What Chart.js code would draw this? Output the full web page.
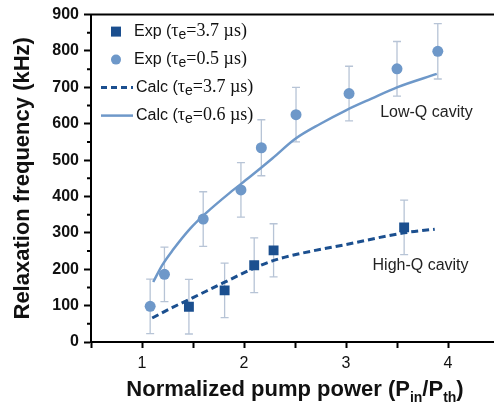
<!DOCTYPE html>
<html lang="en">
<head>
<meta charset="UTF-8">
<title>Relaxation frequency vs pump power</title>
<script src="https://cdn.jsdelivr.net/npm/chart.js@4"></script>
<style>
  html, body { margin: 0; padding: 0; background: #fff; }
  #wrap { width: 494px; height: 414px; overflow: hidden; }
</style>
</head>
<body>
<div id="wrap"><canvas id="myChart" width="506" height="414"></canvas></div>
<script>
// values
const expLongX = [1.46, 1.81, 2.10, 2.29, 3.57];
const expLongY = [97, 142, 211, 252, 315];
const expLongErr = [75, 75, 75, 73, 75];

const expShortX = [1.08, 1.22, 1.60, 1.97, 2.17, 2.51, 3.03, 3.50, 3.90];
const expShortY = [98, 186, 338, 418, 534, 625, 683, 751, 799];
const expShortErr = [75, 75, 75, 75, 77, 75, 75, 75, 76];

const calcLongX = [1.10, 1.30, 1.50, 1.80, 2.10, 2.30, 2.55, 3.00, 3.57, 3.87];
const calcLongY = [66, 95, 122, 163, 203, 225, 243, 268, 300, 310];

const calcShortX = [1.11, 1.20, 1.30, 1.47, 1.63, 1.86, 2.05, 2.28, 2.50, 2.75, 3.00, 3.25, 3.50, 3.89];
const calcShortY = [165, 212, 252, 311, 355, 410, 452, 505, 558, 600, 637, 669, 700, 737];

const seriesKind = ['Exp', 'Exp', 'Calc', 'Calc'];
const tauValues = ['3.7', '0.5', '3.7', '0.6'];
const noteTexts = ['Low-Q cavity', 'High-Q cavity'];

const sans = 'Arial, "Liberation Sans", sans-serif';
const serif = '"Times New Roman", "Liberation Serif", serif';
const darkBlue = '#1b4f8f';
const lightBlue = '#6e98c9';

function pts(xs, ys) { return xs.map((x, i) => ({x: x, y: ys[i]})); }
function label(i) { return seriesKind[i] + ' (τe=' + tauValues[i] + ' µs)'; }

// error bars, drawn under the points
const errorBars = {
    id: 'errorBars',
    beforeDatasetsDraw(chart) {
        const ctx = chart.ctx, xs = chart.scales.x, ys = chart.scales.y;
        ctx.save();
        ctx.strokeStyle = '#b7c4d6';
        ctx.lineWidth = 1.3;
        chart.data.datasets.forEach(ds => {
            if (!ds.errors) return;
            ds.data.forEach((p, i) => {
                const px = xs.getPixelForValue(p.x);
                const top = ys.getPixelForValue(p.y + ds.errors[i]);
                const bot = ys.getPixelForValue(p.y - ds.errors[i]);
                ctx.beginPath();
                ctx.moveTo(px, top); ctx.lineTo(px, bot);
                ctx.moveTo(px - 4, top); ctx.lineTo(px + 4, top);
                ctx.moveTo(px - 4, bot); ctx.lineTo(px + 4, bot);
                ctx.stroke();
            });
        });
        ctx.restore();
    }
};

function drawRich(ctx, parts, x, y, measureOnly) {
    let cx = x;
    parts.forEach(p => {
        ctx.font = p[1];
        if (!measureOnly) ctx.fillText(p[0], cx, y + (p[2] || 0));
        cx += ctx.measureText(p[0]).width;
    });
    return cx - x;
}

const extras = {
    id: 'extras',
    afterDraw(chart) {
        const ctx = chart.ctx, a = chart.chartArea, xs = chart.scales.x, ys = chart.scales.y;
        ctx.save();
        // top and right frame
        ctx.strokeStyle = '#000';
        ctx.lineWidth = 2;
        ctx.beginPath();
        ctx.moveTo(a.left - 1, a.top); ctx.lineTo(a.right, a.top); ctx.lineTo(a.right, a.bottom);
        ctx.stroke();
        // minor ticks on y
        const t = ys.ticks;
        ctx.beginPath();
        for (let i = 0; i < t.length - 1; i++) {
            const py = ys.getPixelForValue((t[i].value + t[i + 1].value) / 2);
            ctx.moveTo(a.left - 4, py); ctx.lineTo(a.left, py);
        }
        ctx.stroke();

        // legend
        ctx.textBaseline = 'middle';
        ctx.fillStyle = '#111';
        const rows = [17, 45, 73, 101];
        rows.forEach((dy, i) => {
            const y = a.top + dy;
            const mx = a.left + 25;
            ctx.save();
            if (i === 0) {
                ctx.fillStyle = darkBlue;
                ctx.fillRect(mx - 5, y - 5, 10, 10);
            } else if (i === 1) {
                ctx.fillStyle = lightBlue;
                ctx.beginPath(); ctx.arc(mx, y, 5, 0, Math.PI * 2); ctx.fill();
            } else {
                ctx.strokeStyle = i === 2 ? darkBlue : lightBlue;
                ctx.lineWidth = i === 2 ? 3 : 2.5;
                if (i === 2) ctx.setLineDash([6, 4]);
                ctx.beginPath(); ctx.moveTo(a.left + 10, y); ctx.lineTo(a.left + 42, y); ctx.stroke();
            }
            ctx.restore();
            const tx = a.left + (i < 2 ? 43 : 45);
            drawRich(ctx, [
                [seriesKind[i] + ' (', '16px ' + sans],
                ['τ', '18px ' + serif],
                ['e', '14px ' + sans, 4],
                ['=' + tauValues[i] + ' µs)', '18px ' + serif]
            ], tx, y);
        });

        // cavity notes
        ctx.font = '16px ' + sans;
        ctx.fillStyle = '#222';
        ctx.fillText(noteTexts[0], xs.getPixelForValue(3.335), ys.getPixelForValue(630));
        ctx.fillText(noteTexts[1], xs.getPixelForValue(3.26), ys.getPixelForValue(209));

        // x axis title with subscripts
        const big = 'bold 22px ' + sans, small = 'bold 14px ' + sans;
        const parts = [
            ['Normalized pump power (P', big],
            ['in', small, 6],
            ['/P', big],
            ['th', small, 6],
            [')', big]
        ];
        ctx.fillStyle = '#111';
        ctx.textBaseline = 'alphabetic';
        const w = drawRich(ctx, parts, 0, 0, true);
        drawRich(ctx, parts, (a.left + a.right) / 2 - w / 2, 396);
        ctx.restore();
    }
};

const ctx = document.getElementById('myChart').getContext('2d');
const myChart = new Chart(ctx, {
    type: 'scatter',
    data: {
        datasets: [{
            label: label(0),
            data: pts(expLongX, expLongY),
            errors: expLongErr,
            pointStyle: 'rect',
            pointRadius: 7,
            backgroundColor: darkBlue,
            borderWidth: 0
        }, {
            label: label(1),
            data: pts(expShortX, expShortY),
            errors: expShortErr,
            pointStyle: 'circle',
            pointRadius: 5.5,
            backgroundColor: lightBlue,
            borderWidth: 0
        }, {
            label: label(2),
            data: pts(calcLongX, calcLongY),
            showLine: true,
            pointRadius: 0,
            borderColor: darkBlue,
            borderWidth: 3,
            borderDash: [7, 4],
            cubicInterpolationMode: 'monotone'
        }, {
            label: label(3),
            data: pts(calcShortX, calcShortY),
            showLine: true,
            pointRadius: 0,
            borderColor: lightBlue,
            borderWidth: 2.5,
            cubicInterpolationMode: 'monotone'
        }]
    },
    options: {
        responsive: false,
        animation: false,
        layout: { padding: { top: 13, right: 3, left: 0, bottom: 0 } },
        plugins: { legend: { display: false }, tooltip: { enabled: false } },
        scales: {
            x: {
                type: 'linear',
                min: 0.5,
                max: 4.5,
                afterFit: s => { s.height = 72; },
                ticks: {
                    stepSize: 0.5,
                    autoSkip: false,
                    maxRotation: 0,
                    padding: 6,
                    color: '#111',
                    font: { family: sans, size: 16 },
                    callback: v => Number.isInteger(v) ? v : ''
                },
                grid: { drawOnChartArea: false, tickLength: 6, tickWidth: 2, tickColor: '#000' },
                border: { color: '#000', width: 2 }
            },
            y: {
                min: 0,
                max: 900,
                afterFit: s => { s.width = 91; },
                ticks: {
                    stepSize: 100,
                    padding: 5,
                    color: '#111',
                    font: { family: sans, size: 16, weight: 'bold' }
                },
                grid: { drawOnChartArea: false, tickLength: 7, tickWidth: 2, tickColor: '#000' },
                border: { color: '#000', width: 2 },
                title: {
                    display: true,
                    text: 'Relaxation frequency (kHz)',
                    color: '#111',
                    padding: { top: 10, bottom: 0 },
                    font: { family: sans, size: 22, weight: 'bold' }
                }
            }
        }
    },
    plugins: [errorBars, extras]
});
</script>
</body>
</html>
